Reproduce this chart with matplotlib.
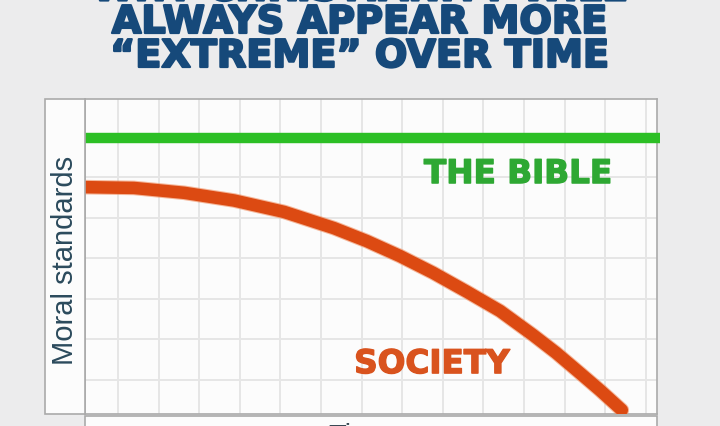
import matplotlib
matplotlib.use("Agg")
import matplotlib.pyplot as plt
from matplotlib.patches import Rectangle
import matplotlib.patheffects as pe

# ---- data (grid units) ----
time = [-0.84, 0.39, 1.63, 2.86, 4.09, 5.32, 6.13, 6.95, 7.76, 8.60, 9.41,
        10.22, 10.79, 11.38, 11.87, 12.41]
society = [4.75, 4.73, 4.61, 4.42, 4.14, 3.74, 3.42, 3.05, 2.64, 2.17, 1.70,
           1.11, 0.67, 0.17, -0.25, -0.74]
bible_x = [-0.84, 13.35]
bible_y = [5.96, 5.96]

title_lines = ["WHY CHRISTIANITY WILL", "ALWAYS APPEAR MORE", "\u201cEXTREME\u201d OVER TIME"]
ylabel = "Moral standards"
xlabel = "Time"
bible_label = "THE BIBLE"
society_label = "SOCIETY"

W, H = 720, 426
fig = plt.figure(figsize=(W / 100, H / 100), dpi=100)
fig.patch.set_facecolor("#ececed")

def fx(px):
    return px / W

def fy(py):
    return 1 - py / H

# left label box
fig.patches.append(Rectangle((fx(44.7), fy(414)), fx(85) - fx(44.7), fy(99) - fy(414),
                             transform=fig.transFigure, facecolor="#fcfcfc",
                             edgecolor="#aaaaaa", lw=1.2, zorder=0))
# lower box (x-label area)
fig.patches.append(Rectangle((fx(85), fy(440)), fx(657) - fx(85), fy(416) - fy(440),
                             transform=fig.transFigure, facecolor="#fcfcfc",
                             edgecolor="#aaaaaa", lw=1.2, zorder=0))

ax = fig.add_axes([fx(85), fy(414), fx(657) - fx(85), fy(99) - fy(414)])
ax.set_facecolor("#fcfcfc")
ax.set_xlim(-0.813, 13.276)
ax.set_ylim(-0.837, 6.92)
ax.set_xticks(range(0, 14))
ax.set_yticks(range(0, 7))
ax.grid(True, color="#e6e6e6", lw=1.4)
ax.tick_params(length=0, labelleft=False, labelbottom=False)
for s in ax.spines.values():
    s.set_color("#aaaaaa")
    s.set_linewidth(1.2)

ax.plot(bible_x, bible_y, color="#2cbf25", lw=7.5, solid_capstyle="butt",
        clip_on=False, zorder=3)
ax.plot(time, society, color="#f08a5a", lw=10.5, solid_capstyle="round",
        solid_joinstyle="round", zorder=3, alpha=0.6)
ax.plot(time, society, color="#dc4a12", lw=9.0, solid_capstyle="round",
        solid_joinstyle="round", zorder=4)

ax.text(9.85, 4.85, bible_label, color="#2ea833", fontsize=23.5, fontweight="bold",
        family="DejaVu Sans", ha="center", va="baseline", zorder=5,
        path_effects=[pe.withStroke(linewidth=1.0, foreground="#2ea833")])
ax.text(7.73, 0.17, society_label, color="#d9531e", fontsize=23.5, fontweight="bold",
        family="DejaVu Sans", ha="center", va="baseline", zorder=5,
        path_effects=[pe.withStroke(linewidth=1.0, foreground="#d9531e")])

# y label
fig.text(fx(65), fy(260), ylabel, rotation=90, color="#2b4a5c", fontsize=21,
         family="Liberation Sans", ha="center", va="center")
# x label (cut off by the figure edge)
fig.text(fx(360), fy(423), xlabel, color="#3a4a55", fontsize=21,
         family="Liberation Sans", ha="center", va="top")

# title lines
baselines = [0.5, 33, 67]
for line, b in zip(title_lines, baselines):
    fig.text(0.5, fy(b), line, color="#16497a", fontsize=27.5, fontweight="bold",
             family="DejaVu Sans", ha="center", va="baseline",
             path_effects=[pe.withStroke(linewidth=1.6, foreground="#16497a")])

fig.savefig("out.png", dpi=100, facecolor=fig.get_facecolor())
